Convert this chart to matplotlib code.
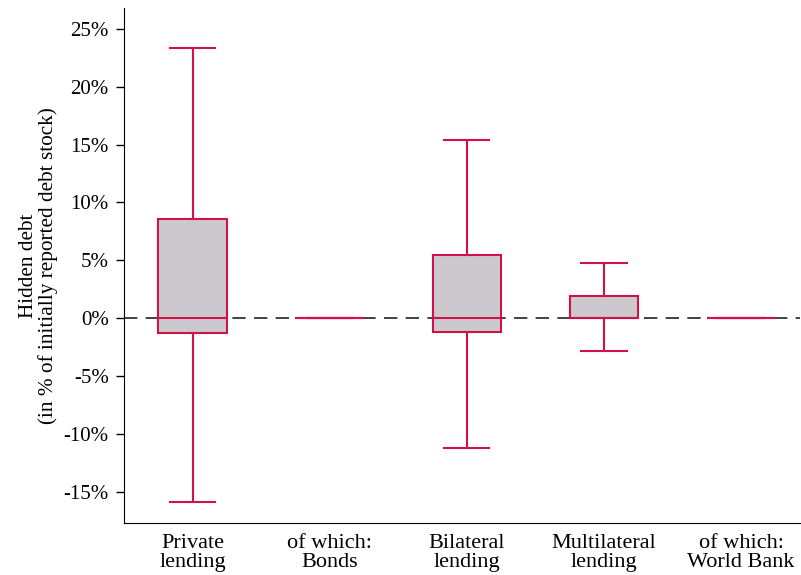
"""Box plot of hidden debt by creditor type"""
import matplotlib
matplotlib.use('Agg')
import matplotlib.pyplot as plt
from matplotlib.ticker import FuncFormatter

# data (in %)
categories = ['Private\nlending', 'of which:\nBonds', 'Bilateral\nlending',
              'Multilateral\nlending', 'of which:\nWorld Bank']
whisker_low = [-15.9, 0.0, -11.25, -2.85, 0.0]
q1 = [-1.3, 0.0, -1.2, 0.0, 0.0]
median = [0.0, 0.0, 0.0, 0.0, 0.0]
q3 = [8.55, 0.0, 5.45, 1.9, 0.0]
whisker_high = [23.35, 0.0, 15.4, 4.8, 0.0]
y_ticks = [-15, -10, -5, 0, 5, 10, 15, 20, 25]

plt.rcParams['font.family'] = ['Liberation Serif', 'DejaVu Serif']

RED = '#d1124a'

stats = []
for i, name in enumerate(categories):
    stats.append({'label': name, 'whislo': whisker_low[i], 'q1': q1[i],
                  'med': median[i], 'q3': q3[i], 'whishi': whisker_high[i]})

fig = plt.figure(figsize=(8.01, 5.75), dpi=100)
ax = fig.add_axes([124 / 801, 52 / 575, 676 / 801, 515 / 575])

ax.axhline(0, color='#222222', lw=1.2, ls=(0, (8, 5)), zorder=1)
ax.bxp(stats, positions=range(1, 6), widths=0.5, capwidths=0.33,
       showfliers=False, patch_artist=True,
       boxprops=dict(facecolor='#cbc9cd', edgecolor=RED, lw=1.5),
       medianprops=dict(color=RED, lw=1.5),
       whiskerprops=dict(color=RED, lw=1.5),
       capprops=dict(color=RED, lw=1.5), zorder=2)

ax.set_xlim(0.5, 5.43)
ax.set_ylim(-17.7, 26.8)
ax.set_yticks(y_ticks)
ax.yaxis.set_major_formatter(FuncFormatter(lambda v, p: f'{v:.0f}%'))
ax.set_xticks(range(1, 6))
ax.set_xticklabels(categories, fontsize=16, linespacing=1.0)
ax.tick_params(axis='x', length=0, pad=8)
ax.tick_params(axis='y', labelsize=15, length=6, width=1, pad=5)
ax.spines['top'].set_visible(False)
ax.spines['right'].set_visible(False)
ax.set_ylabel('Hidden debt\n(in % of initially reported debt stock)', fontsize=15.3,
              linespacing=1.0, labelpad=4)

fig.savefig('out.png', dpi=100)
